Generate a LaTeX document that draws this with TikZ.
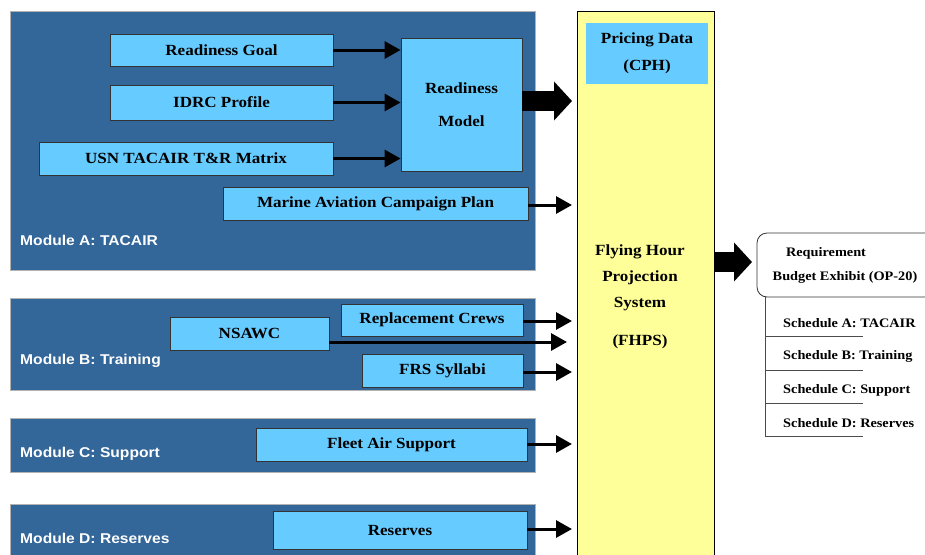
\documentclass[tikz,border=0pt]{standalone}
\usepackage{fontspec}
\setmainfont[FakeStretch=1.1]{Liberation Serif}
\newfontfamily\labfont[FakeStretch=1.1]{Liberation Sans}
\usetikzlibrary{arrows.meta,calc}
\definecolor{modblue}{HTML}{336699}
\definecolor{lblue}{HTML}{66CCFF}
\definecolor{lyellow}{HTML}{FFFF99}
\tikzset{
  x=1pt,y=-1pt,
  module/.style={draw=gray!60,line width=0.8pt,fill=modblue},
  lbox/.style={draw=black!80,line width=0.8pt,fill=lblue,inner sep=0pt,font=\fontsize{15.5}{18}\selectfont\bfseries},
  modlabel/.style={anchor=west,text=white,inner sep=0pt,font=\labfont\fontsize{14.2}{16}\selectfont\bfseries},
  thinarrow/.style={line width=3pt,-{Triangle[length=16pt,width=17pt]}},
  bigarrow/.style={line width=20pt,-{Triangle[length=18pt,width=38pt]}},
  schedtext/.style={anchor=west,inner sep=0pt,font=\fontsize{13}{15}\selectfont\bfseries},
}
\begin{document}
\begin{tikzpicture}
\clip (0,0) rectangle (925,554);
\fill[white] (0,0) rectangle (925,554);
% modules
\draw[module] (10,11) rectangle (535,270);
\draw[module] (10,298) rectangle (535,390);
\draw[module] (10,418) rectangle (535,472);
\draw[module] (10,504) rectangle (535,570);
\node[modlabel] (labA) at (20,240) {Module A: TACAIR};
\node[modlabel] (labB) at (20,361) {Module B: Training};
\node[modlabel] (labC) at (20,454) {Module C: Support};
\node[modlabel] (labD) at (20,538) {Module D: Reserves};
% FHPS column
\node[draw=black,line width=0.8pt,fill=lyellow,minimum width=137pt,minimum height=560pt,anchor=north west,inner sep=0pt] (fhps) at (577,11) {};
\node[fill=lblue,minimum width=122pt,minimum height=61pt,inner sep=0pt,align=center,font=\fontsize{15.5}{27}\selectfont\bfseries] (price) at (647,53.5) {Pricing Data\\(CPH)};
\node[align=center,inner sep=0pt,font=\fontsize{15.5}{26}\selectfont\bfseries] (fhpstext) at (640,278) {Flying Hour\\Projection\\System};
\node[inner sep=0pt,font=\fontsize{15.5}{18}\selectfont\bfseries] (fhpsabbr) at (640,342) {(FHPS)};
% Module A boxes
\node[lbox,minimum width=223pt,minimum height=32pt] (rg) at (221.5,50) {Readiness Goal};
\node[lbox,minimum width=223pt,minimum height=35pt] (idrc) at (221.5,102.5) {IDRC Profile};
\node[lbox,minimum width=294pt,minimum height=33pt] (usn) at (186,158.5) {USN TACAIR T\&R Matrix};
\node[lbox,minimum width=121pt,minimum height=133pt,align=center,font=\fontsize{15.5}{33}\selectfont\bfseries] (rm) at (461.5,104.5) {Readiness\\Model};
\node[lbox,minimum width=305pt,minimum height=33pt] (macp) at (375.5,203.5) {Marine Aviation Campaign Plan};
% Module B boxes
\node[lbox,minimum width=159pt,minimum height=33pt] (nsawc) at (249.5,333.5) {NSAWC};
\node[lbox,minimum width=182pt,minimum height=32pt] (rc) at (432,320) {Replacement Crews};
\node[lbox,minimum width=161pt,minimum height=33pt] (frs) at (442.5,370.5) {FRS Syllabi};
% Module C, D boxes
\node[lbox,minimum width=271pt,minimum height=33pt] (fas) at (391.5,444.5) {Fleet Air Support};
\node[lbox,minimum width=254pt,minimum height=38pt] (res) at (400,530) {Reserves};
% arrows inside module A
\draw[thinarrow] (rg.east) -- (rg.east -| rm.west);
\draw[thinarrow] (idrc.east) -- (idrc.east -| rm.west);
\draw[thinarrow] (usn.east) -- (usn.east -| rm.west);
% arrows into FHPS
\coordinate (inRM) at (572,101);
\coordinate (inMACP) at (572,205);
\coordinate (inRC) at (572,321);
\coordinate (inNS) at (567,342);
\coordinate (inFRS) at (572,372);
\coordinate (inFAS) at (572,444);
\coordinate (inRES) at (572,529);
\draw[bigarrow] (rm.east |- inRM) -- (inRM);
\draw[thinarrow] (macp.east |- inMACP) -- (inMACP);
\draw[thinarrow] (rc.east |- inRC) -- (inRC);
\draw[thinarrow] (nsawc.east |- inNS) -- (inNS);
\draw[thinarrow] (frs.east |- inFRS) -- (inFRS);
\draw[thinarrow] (fas.east |- inFAS) -- (inFAS);
\draw[thinarrow] (res.east |- inRES) -- (inRES);
% requirement box
\draw[black!80,line width=0.8pt,rounded corners=10pt,fill=white] (757,233) rectangle (945,297);
\node[inner sep=0pt,font=\fontsize{13}{15}\selectfont\bfseries] (req1) at (826,253) {Requirement};
\node[inner sep=0pt,font=\fontsize{13}{15}\selectfont\bfseries] (req2) at (845,277) {Budget Exhibit (OP-20)};
\coordinate (reqW) at (752,262);
\draw[bigarrow] (fhps.east |- reqW) -- (reqW);
% schedules
\draw[black!70,line width=0.8pt] (765,297) -- (765,436);
\foreach \yy in {336,370,403,436} \draw[black!70,line width=0.8pt] (765,\yy) -- (863,\yy);
\node[schedtext] (sa) at (783,323) {Schedule A: TACAIR};
\node[schedtext] (sb) at (783,356) {Schedule B: Training};
\node[schedtext] (sc) at (783,390) {Schedule C: Support};
\node[schedtext] (sd) at (783,423) {Schedule D: Reserves};
\end{tikzpicture}
\end{document}
